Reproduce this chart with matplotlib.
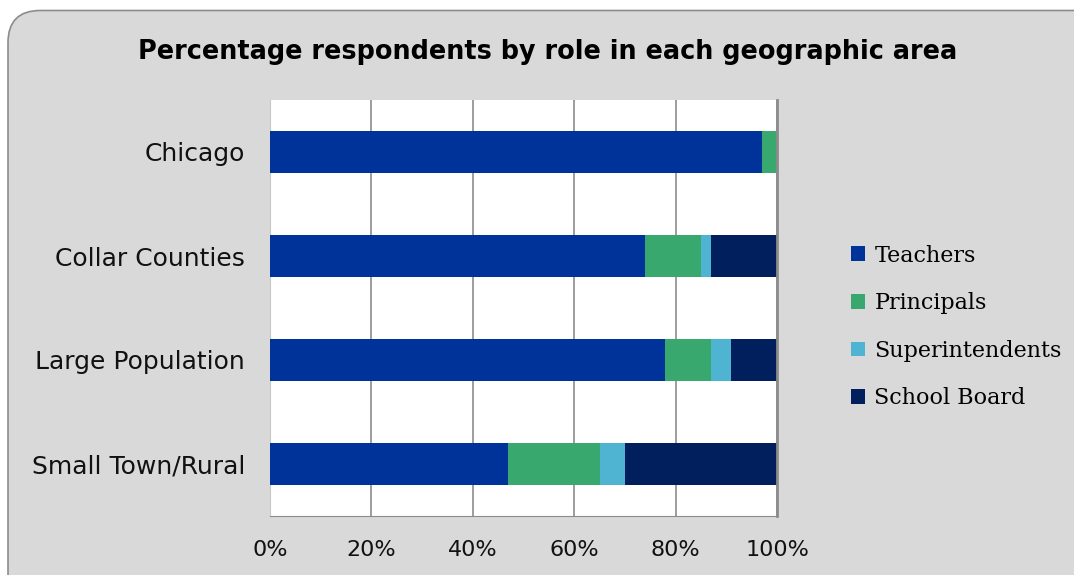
import matplotlib
matplotlib.use("Agg")
import matplotlib.pyplot as plt
from matplotlib.patches import FancyBboxPatch, Patch
import numpy as np

areas = ["Chicago", "Collar Counties", "Large Population", "Small Town/Rural"]
roles = ["Teachers", "Principals", "Superintendents", "School Board"]
teachers = [97, 74, 78, 47]
principals = [3, 11, 9, 18]
superintendents = [0, 2, 4, 5]
school_board = [0, 13, 9, 30]
colors = ["#003399", "#38a86f", "#4fb3d2", "#001f5c"]

fig = plt.figure(figsize=(10.74, 5.75), dpi=100)
fig.patch.set_facecolor("white")
# rounded grey chart frame (runs off the right/bottom edge)
frame = FancyBboxPatch((8 / 1074, -0.1), 1.2, 1.1 - 10.5 / 575,
                       boxstyle="round,pad=0,rounding_size=0.03",
                       transform=fig.transFigure, facecolor="#d9d9d9",
                       edgecolor="#8c8c8c", lw=1.2, mutation_aspect=1074 / 575,
                       zorder=-5)
fig.patches.append(frame)

ax = fig.add_axes([270 / 1074, (575 - 516) / 575, 507 / 1074, 416 / 575])
ax.set_facecolor("white")

y = np.arange(len(areas))
left = np.zeros(len(areas))
for vals, lab, col in zip([teachers, principals, superintendents, school_board], roles, colors):
    ax.barh(y, vals, left=left, height=0.4, color=col, label=lab, zorder=3)
    left += np.array(vals)

ax.set_xlim(0, 100)
ax.set_ylim(len(areas) - 0.5, -0.5)
ax.set_xticks(np.arange(0, 101, 20))
ax.set_xticklabels([f"{v}%" for v in range(0, 101, 20)])
ax.set_yticks(y)
ax.set_yticklabels(areas)
ax.tick_params(axis="both", length=0, colors="#111111")
ax.tick_params(axis="x", pad=17, labelsize=16)
ax.tick_params(axis="y", pad=18, labelsize=18)
ax.grid(axis="x", color="#8c8c8c", lw=1.2, zorder=0)
for sp in ("top", "right"):
    ax.spines[sp].set_visible(False)
ax.spines["left"].set_color("#c8c8c8")
ax.spines["bottom"].set_color("#8c8c8c")
ax.axvline(100, color="#8c8c8c", lw=2, zorder=4, clip_on=False)

fig.text(548 / 1074, 1 - 52 / 575, "Percentage respondents by role in each geographic area",
         ha="center", va="center", fontsize=18.4, fontweight="bold")

handles = [Patch(facecolor=c, edgecolor="none") for c in colors]
fig.legend(handles, roles, loc="center left", bbox_to_anchor=(831 / 1074, 1 - 327 / 575),
           frameon=False, prop={"family": "DejaVu Serif", "size": 16},
           handlelength=0.65, handleheight=0.65, handletextpad=0.4, labelspacing=1.15)

fig.savefig("out.png", dpi=100, facecolor=fig.get_facecolor())
